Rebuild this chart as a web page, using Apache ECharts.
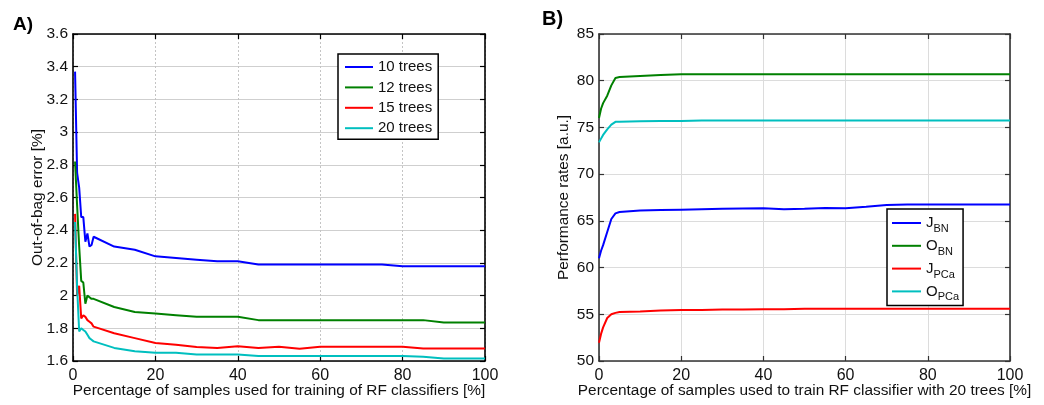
<!doctype html>
<html>
<head>
    <meta charset="utf-8">
    <title>RF classifiers</title>
    <script type="text/javascript" src="https://cdn.jsdelivr.net/npm/echarts@6.0.0/dist/echarts.min.js"></script>
    <style>
        html, body { margin: 0; padding: 0; background: #fff; }
        #container { width: 1044px; height: 405px; }
    </style>
</head>
<body>
<div id="container"></div>
<script type="text/javascript">

    // A) out-of-bag error vs percentage of samples
    var xA = [0.5, 1, 1.5, 2, 2.5, 3, 3.5, 4, 4.5, 5, 10, 15, 20, 25, 30, 35, 40, 45, 50, 55, 60, 65, 70, 75, 80, 85, 90, 95, 100];
    var trees10 = [3.37, 2.75, 2.66, 2.48, 2.48, 2.33, 2.38, 2.30, 2.31, 2.36, 2.30, 2.28, 2.24, 2.23, 2.22, 2.21, 2.21, 2.19, 2.19, 2.19, 2.19, 2.19, 2.19, 2.19, 2.18, 2.18, 2.18, 2.18, 2.18];
    var trees12 = [2.82, 2.55, 2.30, 2.09, 2.08, 1.95, 2.00, 1.99, 1.98, 1.98, 1.93, 1.90, 1.89, 1.88, 1.87, 1.87, 1.87, 1.85, 1.85, 1.85, 1.85, 1.85, 1.85, 1.85, 1.85, 1.85, 1.835, 1.835, 1.835];
    var trees15 = [2.50, 2.00, 2.06, 1.86, 1.88, 1.87, 1.85, 1.84, 1.83, 1.81, 1.77, 1.74, 1.71, 1.70, 1.685, 1.68, 1.69, 1.68, 1.687, 1.675, 1.687, 1.687, 1.687, 1.687, 1.687, 1.677, 1.677, 1.677, 1.677];
    var trees20 = [2.45, 2.05, 1.78, 1.80, 1.79, 1.78, 1.76, 1.74, 1.73, 1.72, 1.68, 1.66, 1.65, 1.65, 1.64, 1.64, 1.64, 1.63, 1.63, 1.63, 1.63, 1.63, 1.63, 1.63, 1.63, 1.626, 1.616, 1.616, 1.616];

    // B) performance rates, 20 trees
    var xB = [0, 0.5, 1, 2, 3, 4, 5, 10, 15, 20, 25, 30, 35, 40, 45, 50, 55, 60, 65, 70, 75, 80, 85, 90, 95, 100];
    var jBN = [61.0, 61.8, 62.4, 63.8, 65.2, 65.8, 65.95, 66.1, 66.15, 66.2, 66.25, 66.3, 66.32, 66.34, 66.25, 66.3, 66.38, 66.35, 66.5, 66.7, 66.75, 66.75, 66.75, 66.75, 66.75, 66.75];
    var oBN = [76.0, 77.0, 77.6, 78.4, 79.5, 80.3, 80.4, 80.5, 80.6, 80.7, 80.7, 80.7, 80.7, 80.7, 80.7, 80.7, 80.7, 80.7, 80.7, 80.7, 80.7, 80.7, 80.7, 80.7, 80.7, 80.7];
    var jPCa = [51.95, 52.9, 53.6, 54.6, 55.0, 55.15, 55.25, 55.3, 55.4, 55.45, 55.47, 55.5, 55.5, 55.55, 55.55, 55.6, 55.6, 55.6, 55.6, 55.6, 55.6, 55.6, 55.6, 55.6, 55.6, 55.6];
    var oPCa = [73.4, 73.8, 74.2, 74.8, 75.3, 75.6, 75.6, 75.65, 75.7, 75.7, 75.75, 75.75, 75.75, 75.75, 75.75, 75.75, 75.75, 75.75, 75.75, 75.75, 75.75, 75.75, 75.75, 75.75, 75.75, 75.75];

    var legendA = ['10 trees', '12 trees', '15 trees', '20 trees'];
    var legendB = ['JBN', 'OBN', 'JPCa', 'OPCa'];
    var colors = ['#0000ff', '#008000', '#ff0000', '#00bfbf'];

    var font = 'Liberation Sans, Arial, Helvetica, sans-serif';

    function pairs(xs, ys) {
        var out = [];
        for (var i = 0; i < xs.length; i++) out.push([xs[i], ys[i]]);
        return out;
    }

    function line(name, xs, ys, color, xi, yi) {
        return {
            name: name, type: 'line', xAxisIndex: xi, yAxisIndex: yi,
            data: pairs(xs, ys), symbol: 'none', smooth: false,
            lineStyle: {color: color, width: 2}, itemStyle: {color: color},
            animation: false
        };
    }

    // bottom / left axes with labels, top / right ones just for the box ticks
    function xAx(grid, top, name, axisColor, gridLine) {
        return {
            type: 'value', gridIndex: grid, position: top ? 'top' : 'bottom',
            min: 0, max: 100, interval: 20,
            name: top ? '' : name, nameLocation: 'middle', nameGap: 22, nameMoveOverlap: false,
            nameTextStyle: {fontFamily: font, fontSize: 15.4, color: '#111'},
            axisLine: {show: true, onZero: false, lineStyle: {color: axisColor, width: 1.6}},
            axisTick: {show: true, inside: true, length: 5, lineStyle: {color: axisColor, width: 1.2}},
            axisLabel: {show: !top, margin: 7, fontFamily: font, fontSize: 16, color: '#111'},
            splitLine: {show: !top, lineStyle: gridLine}
        };
    }

    function yAx(grid, right, min, max, step, name, axisColor, gridLine) {
        return {
            type: 'value', gridIndex: grid, position: right ? 'right' : 'left',
            min: min, max: max, interval: step,
            name: right ? '' : name, nameLocation: 'middle', nameGap: 28, nameMoveOverlap: false,
            nameTextStyle: {fontFamily: font, fontSize: 15.4, color: '#111'},
            axisLine: {show: true, onZero: false, lineStyle: {color: axisColor, width: 1.6}},
            axisTick: {show: true, inside: true, length: 5, lineStyle: {color: axisColor, width: 1.2}},
            axisLabel: {show: !right, margin: 5, fontFamily: font, fontSize: 15.5, color: '#111'},
            splitLine: {show: !right, lineStyle: gridLine}
        };
    }

    var dom = document.getElementById('container');
    var myChart = echarts.init(dom, null, {renderer: 'canvas'});

    var gridA = {color: '#c4c4c4', width: 1, type: [2, 2]};
    var gridAh = {color: '#cfcfcf', width: 1};
    var gridB = {color: '#dcdcdc', width: 1};

    var option = {
        backgroundColor: '#fff',
        animation: false,
        title: [
            {text: 'A)', left: 8, top: 10, textStyle: {fontFamily: font, fontSize: 19, fontWeight: 'bold', color: '#000'}},
            {text: 'B)', left: 537, top: 4, textStyle: {fontFamily: font, fontSize: 20, fontWeight: 'bold', color: '#000'}}
        ],
        grid: [
            {left: 73, top: 34, width: 412, height: 327, outerBoundsMode: 'none', containLabel: false},
            {left: 599, top: 34, width: 411, height: 327, outerBoundsMode: 'none', containLabel: false}
        ],
        legend: [
            {
                data: legendA, orient: 'vertical', left: 338, top: 54,
                padding: [5.5, 6, 3.5, 7], itemGap: 5.4, itemWidth: 28, itemHeight: 2,
                icon: 'rect',
                borderColor: '#000', borderWidth: 1.5, backgroundColor: '#fff',
                textStyle: {fontFamily: font, fontSize: 15, lineHeight: 15, color: '#111'}
            },
            {
                data: legendB, orient: 'vertical', left: 887, top: 209,
                padding: [6.5, 4, 2.5, 5], itemGap: 3.8, itemWidth: 29, itemHeight: 2,
                icon: 'rect',
                borderColor: '#000', borderWidth: 1.5, backgroundColor: '#fff',
                formatter: function (name) {
                    return '{m|' + name.charAt(0) + '}{s|' + name.slice(1) + '}';
                },
                textStyle: {
                    fontFamily: font, color: '#111',
                    rich: {
                        m: {fontFamily: font, fontSize: 15, lineHeight: 23, color: '#111'},
                        s: {fontFamily: font, fontSize: 11, lineHeight: 11, verticalAlign: 'bottom', color: '#111'}
                    }
                }
            }
        ],
        xAxis: [
            xAx(0, false, 'Percentage of samples used for training of RF classifiers [%]', '#000', gridA),
            xAx(0, true, '', '#000', gridA),
            xAx(1, false, 'Percentage of samples used to train RF classifier with 20 trees [%]', '#333', gridB),
            xAx(1, true, '', '#333', gridB)
        ],
        yAxis: [
            yAx(0, false, 1.6, 3.6, 0.2, 'Out-of-bag error [%]', '#000', gridAh),
            yAx(0, true, 1.6, 3.6, 0.2, '', '#000', gridAh),
            yAx(1, false, 50, 85, 5, 'Performance rates [a.u.]', '#333', gridB),
            yAx(1, true, 50, 85, 5, '', '#333', gridB)
        ],
        series: [
            line(legendA[0], xA, trees10, colors[0], 0, 0),
            line(legendA[1], xA, trees12, colors[1], 0, 0),
            line(legendA[2], xA, trees15, colors[2], 0, 0),
            line(legendA[3], xA, trees20, colors[3], 0, 0),
            line(legendB[0], xB, jBN, colors[0], 2, 2),
            line(legendB[1], xB, oBN, colors[1], 2, 2),
            line(legendB[2], xB, jPCa, colors[2], 2, 2),
            line(legendB[3], xB, oPCa, colors[3], 2, 2)
        ]
    };

    if (option && typeof option === 'object') {
        myChart.setOption(option, true);
    }
</script>
</body>
</html>
